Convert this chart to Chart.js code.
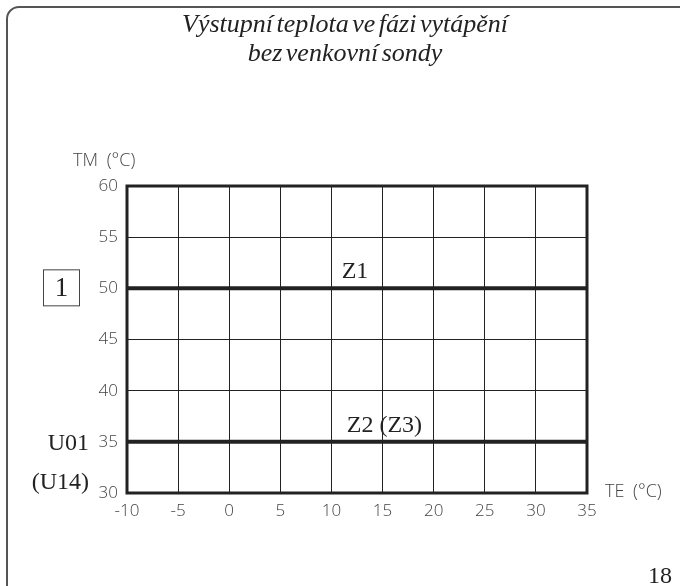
<!DOCTYPE html>
<html>
<head>
<meta charset="utf-8">
<script src="https://cdn.jsdelivr.net/npm/chart.js@4.4.1/dist/chart.umd.min.js"></script>
<style>
  html, body { margin: 0; padding: 0; background: #fff; }
  #wrap { width: 680px; height: 586px; position: relative; }
</style>
</head>
<body>
<div id="wrap"><canvas id="chart"></canvas></div>
<script>
// outdoor temperature TE (°C), end points of the flat lines
const teValues = [-10, 35];
// flow temperature TM (°C) for each zone
const z1Values = [50, 50];
const z2Values = [35, 35];

const titleLines = ['Výstupní teplota ve fázi vytápění', 'bez venkovní sondy'];
const xTickLabels = ['-10', '-5', '0', '5', '10', '15', '20', '25', '30', '35'];
const yTickLabels = ['30', '35', '40', '45', '50', '55', '60'];

const serif = '"Liberation Serif", "DejaVu Serif", serif';
const sans = '"Open Sans", "DejaVu Sans", sans-serif';

const decorations = {
  id: 'decorations',
  beforeDraw(chart) {
    const ctx = chart.ctx;
    ctx.save();
    ctx.fillStyle = '#fff';
    ctx.fillRect(0, 0, chart.width, chart.height);
    // page frame, runs off the right and bottom edges
    ctx.strokeStyle = '#555';
    ctx.lineWidth = 2;
    ctx.beginPath();
    ctx.roundRect(7, 7, 684, 620, 12);
    ctx.stroke();
    ctx.restore();
  },
  afterDatasetsDraw(chart) {
    const { ctx, chartArea: a, scales: { x, y } } = chart;
    ctx.save();
    // heavy plot frame
    ctx.strokeStyle = '#222';
    ctx.lineWidth = 3;
    ctx.strokeRect(a.left, a.top, a.right - a.left, a.bottom - a.top);

    // title
    ctx.fillStyle = '#222';
    ctx.textAlign = 'center';
    ctx.textBaseline = 'alphabetic';
    ctx.font = 'italic 26px ' + serif;
    ctx.wordSpacing = '-3px';
    ctx.fillText(titleLines[0], 345, 32);
    ctx.fillText(titleLines[1], 345, 61);
    ctx.wordSpacing = '0px';

    // axis titles
    ctx.fillStyle = '#444';
    ctx.font = '300 18px ' + sans;
    ctx.textAlign = 'left';
    ctx.textBaseline = 'middle';
    ctx.wordSpacing = '4px';
    ctx.fillText('TM (°C)', 73, a.top - 25);
    ctx.fillText('TE (°C)', a.right + 18, a.bottom - 1);
    ctx.wordSpacing = '0px';

    // line labels
    ctx.fillStyle = '#222';
    ctx.font = '24px ' + serif;
    ctx.textBaseline = 'alphabetic';
    ctx.fillText('Z1', x.getPixelForValue(11), y.getPixelForValue(z1Values[0]) - 10);
    ctx.fillText('Z2 (Z3)', x.getPixelForValue(11.5), y.getPixelForValue(z2Values[0]) - 10);

    // parameter names on the left
    ctx.textAlign = 'right';
    ctx.textBaseline = 'middle';
    ctx.fillText('U01', 89, y.getPixelForValue(35) + 2);
    ctx.fillText('(U14)', 89, y.getPixelForValue(31));

    // boxed "1"
    const by = y.getPixelForValue(50);
    ctx.lineWidth = 1;
    ctx.strokeStyle = '#444';
    ctx.strokeRect(43.5, by - 18.5, 36, 36);
    ctx.textAlign = 'center';
    ctx.font = '27px ' + serif;
    ctx.fillText('1', 61.5, by + 1);

    // page number
    ctx.font = '24px ' + serif;
    ctx.textAlign = 'right';
    ctx.textBaseline = 'alphabetic';
    ctx.fillText('18', 672, 583);
    ctx.restore();
  }
};

new Chart(document.getElementById('chart'), {
  type: 'line',
  data: {
    datasets: [
      { label: 'Z1', data: teValues.map((t, i) => ({ x: t, y: z1Values[i] })), borderColor: '#222', borderWidth: 4, pointRadius: 0 },
      { label: 'Z2 (Z3)', data: teValues.map((t, i) => ({ x: t, y: z2Values[i] })), borderColor: '#222', borderWidth: 4, pointRadius: 0 },
    ],
  },
  options: {
    responsive: true,
    maintainAspectRatio: false,
    animation: false,
    layout: { padding: { left: 0, right: 93, top: 186, bottom: 0 } },
    plugins: { legend: { display: false }, tooltip: { enabled: false } },
    scales: {
      x: {
        type: 'linear',
        min: -10,
        max: 35,
        afterFit: (s) => { s.height = 93; },
        afterBuildTicks: (s) => { s.ticks = xTickLabels.map((v) => ({ value: Number(v) })); },
        ticks: { callback: (v, i) => xTickLabels[i], color: '#444', font: { family: sans, size: 17, weight: 300 }, padding: 8, maxRotation: 0, autoSkip: false },
        grid: { color: '#222', lineWidth: 1, drawTicks: false },
        border: { display: false },
      },
      y: {
        min: 30,
        max: 60,
        afterFit: (s) => { s.width = 127; },
        afterBuildTicks: (s) => { s.ticks = yTickLabels.map((v) => ({ value: Number(v) })); },
        ticks: { callback: (v, i) => yTickLabels[i], color: '#444', font: { family: sans, size: 17, weight: 300 }, padding: 9, autoSkip: false },
        grid: { color: '#222', lineWidth: 1, drawTicks: false },
        border: { display: false },
      },
    },
  },
  plugins: [decorations],
});
</script>
</body>
</html>
